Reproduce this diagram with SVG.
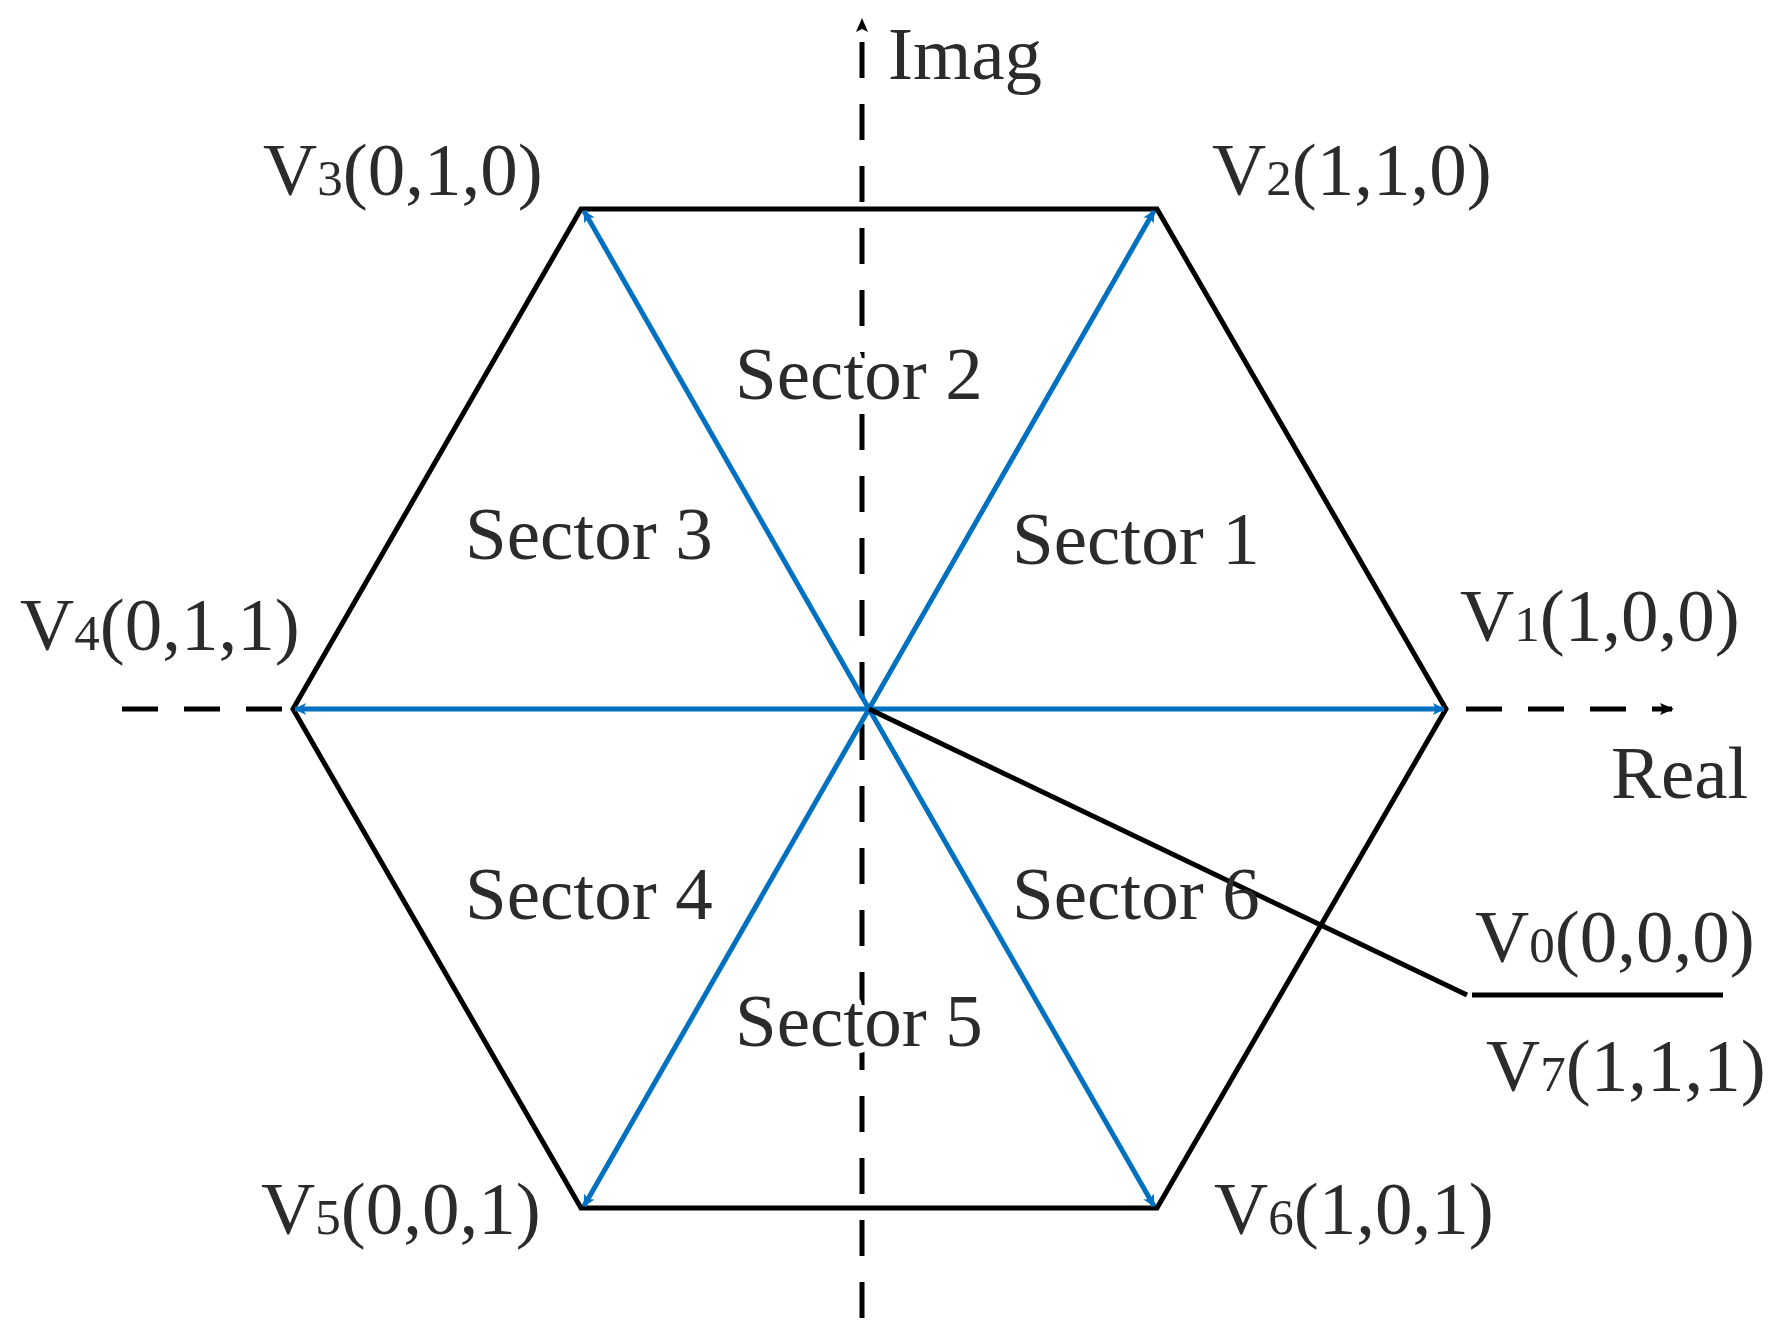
<svg xmlns="http://www.w3.org/2000/svg" width="1779" height="1338" viewBox="0 0 1779 1338">
<style>
text{font-family:"Liberation Serif","Times New Roman",serif;font-size:75px;fill:#2b2b2b}
.s{font-size:51px}
.ko{stroke:#fff;stroke-width:14px;paint-order:stroke;stroke-linejoin:round}
.hex{fill:none;stroke:#000;stroke-width:5}
.blue{stroke:#0070c0;stroke-width:5;fill:none}
.axis{stroke:#000;stroke-width:5;stroke-dasharray:36 26;fill:none}
</style>
<defs>
<marker id="ba" markerWidth="12" markerHeight="12" refX="11" refY="6" orient="auto" markerUnits="userSpaceOnUse" viewBox="0 0 12 12"><path d="M0,0 L12,6 L0,12 L3,6 z" fill="#0070c0"/></marker>
<marker id="ka" markerWidth="14" markerHeight="12" refX="12" refY="6" orient="auto" markerUnits="userSpaceOnUse" viewBox="0 0 14 12"><path d="M0,0 L14,6 L0,12 L3,6 z" fill="#000"/></marker>
</defs>
<g id="connectors">
<line class="axis" x1="122" y1="709" x2="293" y2="709"/>
<line class="axis" x1="1456" y1="709" x2="1672" y2="709" stroke-dashoffset="-10" marker-end="url(#ka)"/>
<line class="axis" x1="862" y1="1318" x2="862" y2="20" marker-end="url(#ka)"/>
<polygon id="hexagon" class="hex" points="1446,709 1157,209 581,209 293,709 581,1208 1157,1208"/>
<line class="blue" x1="869" y1="709" x2="1444" y2="709" marker-end="url(#ba)"/>
<line class="blue" x1="869" y1="709" x2="1154" y2="211" marker-end="url(#ba)"/>
<line class="blue" x1="869" y1="709" x2="584" y2="211" marker-end="url(#ba)"/>
<line class="blue" x1="869" y1="709" x2="295" y2="709" marker-end="url(#ba)"/>
<line class="blue" x1="869" y1="709" x2="584" y2="1206" marker-end="url(#ba)"/>
<line class="blue" x1="869" y1="709" x2="1154" y2="1206" marker-end="url(#ba)"/>
<polyline fill="none" stroke="#000" stroke-width="5" points="869,709 1467,995"/>
<line stroke="#000" stroke-width="5" x1="1472" y1="995" x2="1723" y2="995"/>
</g>
<g id="labels">
<text x="888" y="79">Imag</text>
<text x="1611" y="798">Real</text>
<text x="263" y="195">V<tspan class="s">3</tspan>(0,1,0)</text>
<text x="1212" y="195">V<tspan class="s">2</tspan>(1,1,0)</text>
<text x="20" y="650">V<tspan class="s">4</tspan>(0,1,1)</text>
<text x="1460" y="641">V<tspan class="s">1</tspan>(1,0,0)</text>
<text x="261" y="1234">V<tspan class="s">5</tspan>(0,0,1)</text>
<text x="1214" y="1234">V<tspan class="s">6</tspan>(1,0,1)</text>
<text x="1475" y="962">V<tspan class="s">0</tspan>(0,0,0)</text>
<text x="1486" y="1091">V<tspan class="s">7</tspan>(1,1,1)</text>
<text class="ko" x="735" y="399">Sector 2</text>
<text x="465" y="559">Sector 3</text>
<text x="1012" y="564">Sector 1</text>
<text x="465" y="919">Sector 4</text>
<text x="1012" y="919">Sector 6</text>
<text class="ko" x="735" y="1046">Sector 5</text>
</g>
</svg>
